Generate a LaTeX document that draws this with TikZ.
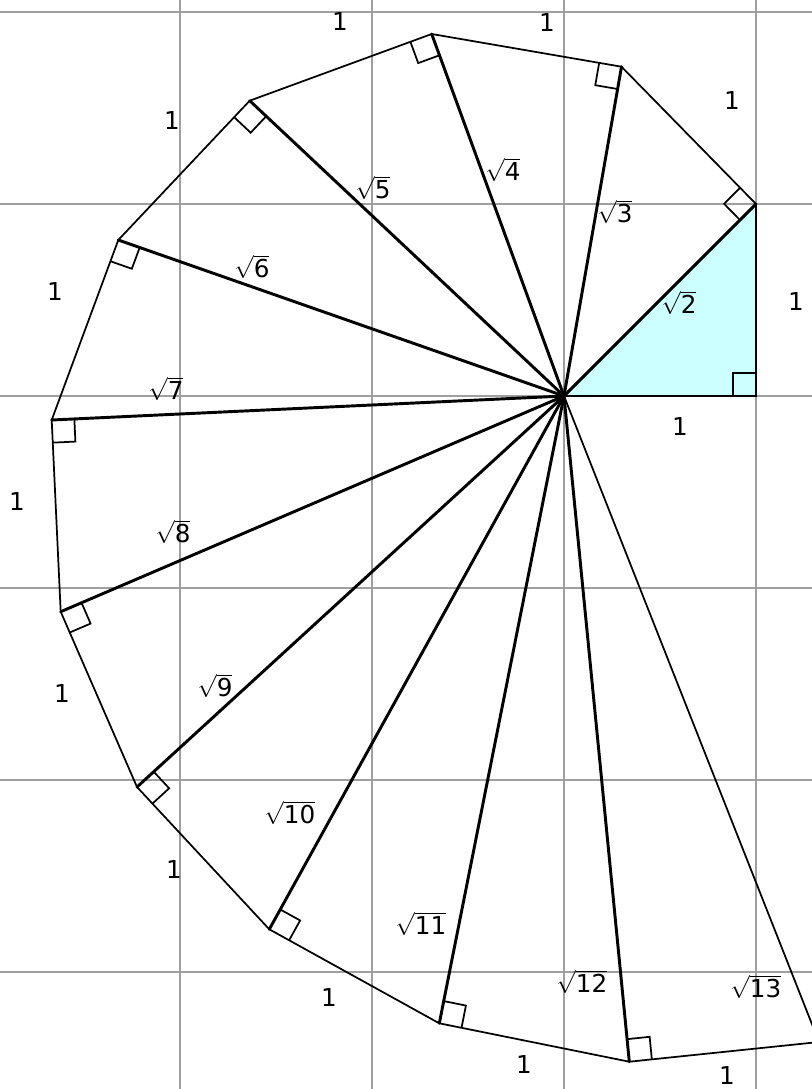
\documentclass[tikz,border=0pt]{standalone}
\usepackage{fontspec}
\setmainfont{DejaVu Sans}
\usetikzlibrary{calc}
\definecolor{trifill}{HTML}{CCFFFF}
\tikzset{
  gridline/.style={draw=gray!75, line width=1.6pt},
  edgeline/.style={line width=1.3pt, line join=round, line cap=round},
  hypline/.style={line width=2.2pt, line cap=round},
  legline/.style={line width=1.7pt, line cap=round},
  rightmark/.style={line width=1.3pt},
  lbl/.style={font=\fontsize{18.5}{20}\selectfont, inner sep=0pt, anchor=center},
}
\newcommand\myrt[1]{$\sqrt{\mbox{#1}}$}
\begin{document}
\begin{tikzpicture}[x=0.75pt,y=-0.75pt]
\useasboundingbox (0,0) rectangle (812,1089);
\clip (0,0) rectangle (812,1089);
\fill[white] (0,0) rectangle (812,1089);
% grid
\foreach \gx in {180,372,564,756} \draw[gridline] (\gx,0) -- (\gx,1089);
\foreach \gy in {12,204,396,588,780,972} \draw[gridline] (0,\gy) -- (812,\gy);
% points
\coordinate (O) at (564,396);
\coordinate (P1) at (756,396);
\coordinate (P2) at (756,204);
\coordinate (P3) at (621.5,66.7);
\coordinate (P4) at (431.7,34);
\coordinate (P5) at (249.7,100.7);
\coordinate (P6) at (118.3,240);
\coordinate (P7) at (51.7,420);
\coordinate (P8) at (60.7,611.7);
\coordinate (P9) at (137,787);
\coordinate (P10) at (269.3,929.3);
\coordinate (P11) at (439.3,1023.3);
\coordinate (P12) at (629.3,1061.7);
\coordinate (P13) at (819,1042);
% first triangle
\fill[trifill] (O) -- (P1) -- (P2) -- cycle;
\draw[legline] (O) -- (P1);
\draw[legline] (P1) -- (P2);
% outer edges
\foreach \a/\b in {P2/P3,P3/P4,P4/P5,P5/P6,P6/P7,P7/P8,P8/P9,P9/P10,P10/P11,P11/P12,P12/P13}
  \draw[edgeline] (\a) -- (\b);
% hypotenuses
\foreach \p in {P2,P3,P4,P5,P6,P7,P8,P9,P10,P11,P12}
  \draw[hypline] (O) -- (\p);
\draw[edgeline] (O) -- (P13);
% right-angle marks
\foreach \p/\b in {P1/P2,P2/P3,P3/P4,P4/P5,P5/P6,P6/P7,P7/P8,P8/P9,P9/P10,P10/P11,P11/P12,P12/P13}{
  \coordinate (MA) at ($(\p)!17pt!(O)$);
  \coordinate (MB) at ($(\p)!17pt!(\b)$);
  \draw[rightmark] (MA) -- ($(MA)+(MB)-(\p)$) -- (MB);
}
% labels
\node[lbl] (l1) at (680,427) {1};
\node[lbl] (l2) at (796,302) {1};
\node[lbl] (r2) at (679,303) {\myrt{2}};
\node[lbl] (l3) at (732,101) {1};
\node[lbl] (r3) at (615,212) {\myrt{3}};
\node[lbl] (l4) at (547,23) {1};
\node[lbl] (r4) at (503,170) {\myrt{4}};
\node[lbl] (l5) at (340,22) {1};
\node[lbl] (r5) at (373,188) {\myrt{5}};
\node[lbl] (l6) at (172,121) {1};
\node[lbl] (r6) at (252,267) {\myrt{6}};
\node[lbl] (l7) at (55,292) {1};
\node[lbl] (r7) at (166,389) {\myrt{7}};
\node[lbl] (l8) at (17,502) {1};
\node[lbl] (r8) at (173,532) {\myrt{8}};
\node[lbl] (l9) at (62,693) {1};
\node[lbl] (r9) at (215,686) {\myrt{9}};
\node[lbl] (l10) at (174,869) {1};
\node[lbl] (r10) at (290,813) {\myrt{10}};
\node[lbl] (l11) at (329,997) {1};
\node[lbl] (r11) at (421,924) {\myrt{11}};
\node[lbl] (r12) at (582,982) {\myrt{12}};
\node[lbl] (l12) at (524,1064) {1};
\node[lbl] (r13) at (756,987) {\myrt{13}};
\node[lbl] (l13) at (727,1075) {1};
\end{tikzpicture}
\end{document}
